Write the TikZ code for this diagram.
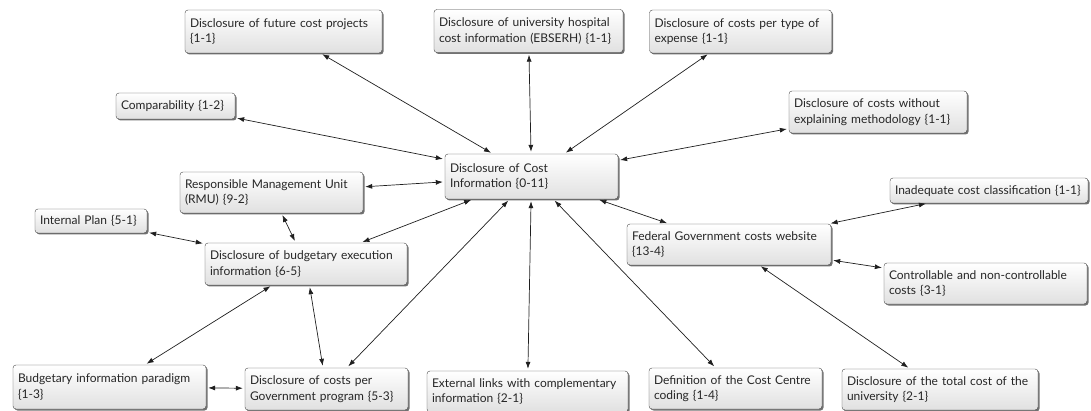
\documentclass[tikz,border=0pt]{standalone}
\usepackage{fontspec}
\setmainfont{Lato}
\usetikzlibrary{arrows.meta,shadows}
\begin{document}
\begin{tikzpicture}[x=1pt, y=-1pt,
    code/.style={draw=black!72, rounded corners=3pt, top color=white, bottom color=black!12,
      text=black!85, font=\fontsize{12}{15.5}\selectfont, align=left, inner xsep=5pt, inner ysep=0pt,
      drop shadow={shadow xshift=1.5pt, shadow yshift=-1.5pt, fill=black!65, opacity=0.85}},
    link/.style={{Latex[length=7pt,width=5pt]}-{Latex[length=7pt,width=5pt]}, black!88, line width=0.7pt,
      shorten >=2pt, shorten <=2pt}]
  \useasboundingbox (0,0) rectangle (1091,411);
  % top row
  \node[code, text width=187pt, minimum height=43pt] (fut) at (283.5,31.5) {Disclosure of future cost projects\\\{1-1\}};
  \node[code, text width=179pt, minimum height=43pt] (hosp) at (528.5,31) {Disclosure of university hospital\\cost information (EBSERH) \{1-1\}};
  \node[code, text width=172pt, minimum height=43pt] (type) at (740.5,31.5) {Disclosure of costs per type of\\expense \{1-1\}};
  \node[code, text width=109pt, minimum height=26pt] (comp) at (175.5,106) {Comparability \{1-2\}};
  \node[code, text width=168pt, minimum height=42pt] (meth) at (878,112) {Disclosure of costs without\\explaining methodology \{1-1\}};
  % centre
  \node[code, text width=163pt, minimum height=45pt] (dci) at (531.5,176.5) {Disclosure of Cost\\Information \{0-11\}};
  % left group
  \node[code, text width=173pt, minimum height=41pt] (rmu) at (271.5,192.5) {Responsible Management Unit\\(RMU) \{9-2\}};
  \node[code, text width=102pt, minimum height=24pt] (ipl) at (91,221) {Internal Plan \{5-1\}};
  \node[code, text width=192pt, minimum height=42pt] (bex) at (306,264) {Disclosure of budgetary execution\\information \{6-5\}};
  % right group
  \node[code, text width=194pt, minimum height=41pt] (fed) at (729,244.5) {Federal Government costs website\\\{13-4\}};
  \node[code, text width=188pt, minimum height=25pt] (inad) at (989,190.5) {Inadequate cost classification \{1-1\}};
  \node[code, text width=193pt, minimum height=41pt] (ctrl) at (985.5,283.5) {Controllable and non-controllable\\costs \{3-1\}};
  % bottom row
  \node[code, text width=183pt, minimum height=44pt] (par) at (109.5,387) {Budgetary information paradigm\\\{1-3\}};
  \node[code, text width=153pt, minimum height=42pt] (gov) at (326.5,389) {Disclosure of costs per\\Government program \{5-3\}};
  \node[code, text width=191pt, minimum height=41pt] (ext) at (527.5,391.5) {External links with complementary\\information \{2-1\}};
  \node[code, text width=163pt, minimum height=41pt] (cc) at (735.5,388.5) {Definition of the Cost Centre\\coding \{1-4\}};
  \node[code, text width=186pt, minimum height=41pt] (tot) at (940,389.5) {Disclosure of the total cost of the\\university \{2-1\}};
  % links
  \foreach \n in {fut,hosp,type,comp,meth,rmu,bex,gov,ext,cc,fed}
    \draw[link] (dci) -- (\n);
  \draw[link] (rmu) -- (bex);
  \draw[link] (ipl) -- (bex);
  \draw[link] (bex) -- (par);
  \draw[link] (bex) -- (gov);
  \draw[link] (par) -- (gov);
  \draw[link] (fed) -- (inad);
  \draw[link] (fed) -- (ctrl);
  \draw[link] (fed) -- (tot);
\end{tikzpicture}
\end{document}
